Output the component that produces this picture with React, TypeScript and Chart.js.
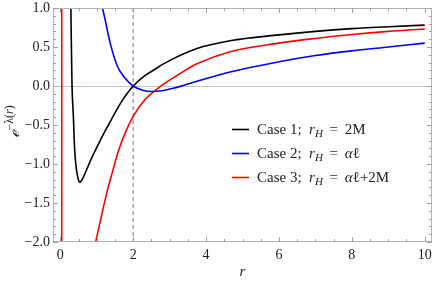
import React, { useEffect, useRef } from 'react';
import { Chart, registerables } from 'chart.js';

Chart.register(...registerables);

// ---- data ----
const case1R = [0.26, 0.29, 0.32, 0.36, 0.39, 0.43, 0.48, 0.54, 0.60, 0.68, 0.77, 0.86, 0.95, 1.04, 1.18, 1.32, 1.46, 1.59, 1.73, 1.87, 2.0, 2.33, 2.6, 2.82, 3.75, 4.66, 6.0, 7.0, 8.0, 9.0, 10.0];
const case1Y = [1.9, 1.0, 0.05, -0.40, -0.78, -1.02, -1.17, -1.235, -1.20, -1.12, -1.02, -0.925, -0.835, -0.75, -0.62, -0.50, -0.38, -0.27, -0.165, -0.075, 0.0, 0.135, 0.215, 0.28, 0.48, 0.58, 0.655, 0.70, 0.735, 0.76, 0.78];

const case2R = [1.10, 1.16, 1.23, 1.37, 1.57, 1.78, 2.0, 2.24, 2.5, 2.8, 3.1, 3.4, 3.75, 4.66, 6.0, 7.0, 8.0, 9.0, 10.0];
const case2Y = [1.16, 1.0, 0.85, 0.55, 0.25, 0.10, 0.0, -0.05, -0.07, -0.06, -0.03, 0.01, 0.06, 0.18, 0.31, 0.39, 0.45, 0.50, 0.55];

const case3R = [0.90, 0.97, 1.09, 1.27, 1.42, 1.59, 1.82, 2.0, 2.33, 2.65, 2.88, 3.15, 3.3, 3.75, 4.66, 6.0, 7.0, 8.0, 9.0, 10.0];
const case3Y = [-2.17, -2.0, -1.75, -1.38, -1.12, -0.84, -0.56, -0.39, -0.17, -0.04, 0.04, 0.12, 0.165, 0.285, 0.44, 0.55, 0.61, 0.66, 0.70, 0.73];

// near-vertical branch of case 3 close to r = 0
const case3PoleR = [0.04, 0.04];
const case3PoleY = [1.1, -2.1];

const horizonR = 2;

const xTickValues = [0, 2, 4, 6, 8, 10];
const yTickValues = [-2, -1.5, -1, -0.5, 0, 0.5, 1];
const xMinorStep = 0.5;
const yMinorStep = 0.1;

const xMin = -0.2;
const xMax = 10.2;
const yMin = -2;
const yMax = 1;

const caseLabels = ['Case 1;', 'Case 2;', 'Case 3;'];
const caseValues = [
  [['2M', 'n']],
  [['α', 'i'], ['ℓ', 'n']],
  [['α', 'i'], ['ℓ', 'n'], ['+2M', 'n']],
];
const caseColors = ['#000000', '#0000ff', '#ff0000'];

const SERIF = '"Liberation Serif", "DejaVu Serif", serif';

function pts(r: number[], v: number[]) {
  return r.map((x, i) => ({ x, y: v[i] }));
}

function drawRich(ctx: CanvasRenderingContext2D, x: number, y: number, parts: string[][], size: number) {
  let cx = x;
  for (const [t, s] of parts) {
    let font = `${size}px ${SERIF}`;
    let dy = 0;
    if (s === 'i') font = `italic ${size}px ${SERIF}`;
    if (s === 'sub') { font = `italic ${Math.round(size * 0.72)}px ${SERIF}`; dy = 3; }
    if (s === 'sup') { font = `${Math.round(size * 0.72)}px ${SERIF}`; dy = -6; }
    if (s === 'supi') { font = `italic ${Math.round(size * 0.72)}px ${SERIF}`; dy = -6; }
    ctx.font = font;
    ctx.fillText(t, cx, y + dy);
    cx += ctx.measureText(t).width;
  }
  return cx;
}

const decorPlugin = {
  id: 'decor',
  beforeDatasetsDraw(chart: any) {
    const { ctx, chartArea, scales } = chart;
    const { left, right, top, bottom } = chartArea;
    const x = scales.x, y = scales.y;
    ctx.save();
    const y0 = Math.round(y.getPixelForValue(0)) + 0.5;
    ctx.strokeStyle = '#c4c4c4';
    ctx.lineWidth = 1;
    ctx.beginPath();
    ctx.moveTo(left, y0);
    ctx.lineTo(right, y0);
    ctx.stroke();
    const xd = x.getPixelForValue(horizonR);
    ctx.setLineDash([4, 3]);
    ctx.strokeStyle = '#a6a6a6';
    ctx.lineWidth = 1.5;
    ctx.beginPath();
    ctx.moveTo(xd, top);
    ctx.lineTo(xd, bottom);
    ctx.stroke();
    ctx.restore();
  },
  afterDatasetsDraw(chart: any) {
    const { ctx, chartArea, scales } = chart;
    const { left, right, top, bottom } = chartArea;
    const x = scales.x, y = scales.y;
    ctx.save();
    ctx.strokeStyle = '#b4b4b4';
    ctx.lineWidth = 1;
    ctx.strokeRect(left + 0.5, top + 0.5, right - left - 1, bottom - top - 1);
    ctx.strokeStyle = '#a0a0a0';
    ctx.beginPath();
    for (let v = Math.ceil(xMin / xMinorStep) * xMinorStep; v <= xMax + 1e-9; v += xMinorStep) {
      const major = xTickValues.some((t) => Math.abs(t - v) < 1e-6);
      const len = major ? 5 : 3;
      const px = Math.round(x.getPixelForValue(v)) + 0.5;
      ctx.moveTo(px, bottom);
      ctx.lineTo(px, bottom - len);
      ctx.moveTo(px, top);
      ctx.lineTo(px, top + len);
    }
    for (let v = yMin; v <= yMax + 1e-9; v += yMinorStep) {
      const major = yTickValues.some((t) => Math.abs(t - v) < 1e-6);
      const len = major ? 5 : 3;
      const py = Math.round(y.getPixelForValue(v)) + 0.5;
      ctx.moveTo(left, py);
      ctx.lineTo(left + len, py);
      ctx.moveTo(right, py);
      ctx.lineTo(right - len, py);
    }
    ctx.stroke();
    ctx.restore();
  },
  afterDraw(chart: any) {
    const { ctx, chartArea } = chart;
    ctx.save();
    ctx.fillStyle = '#222';
    ctx.textBaseline = 'alphabetic';
    ctx.textAlign = 'left';
    const lx = 232, ly0 = 129, dy = 24, size = 15;
    for (let i = 0; i < caseLabels.length; i++) {
      const cy = ly0 + i * dy;
      ctx.strokeStyle = caseColors[i];
      ctx.lineWidth = 1.6;
      ctx.beginPath();
      ctx.moveTo(lx, cy + 0.5);
      ctx.lineTo(lx + 17, cy + 0.5);
      ctx.stroke();
      const parts: string[][] = [[caseLabels[i] + '  ', 'n'], ['r', 'i'], ['H', 'sub'], [' \u2009=\u2009 ', 'n'], ...caseValues[i]];
      drawRich(ctx, lx + 25, cy + 5, parts, size);
    }
    ctx.font = `italic 15px ${SERIF}`;
    ctx.textAlign = 'center';
    const xc = (chartArea.left + chartArea.right) / 2;
    ctx.fillText('r', xc, 276);
    ctx.translate(19, 138);
    ctx.rotate(-Math.PI / 2);
    ctx.textAlign = 'left';
    const e = drawRich(ctx, 0, 0, [['ℯ', 'i']], 16);
    drawRich(ctx, e + 0.5, 0, [['−λ(', 'sup'], ['r', 'supi'], [')', 'sup']], 16);
    ctx.restore();
  },
};

export default function App() {
  const ref = useRef<HTMLCanvasElement | null>(null);
  useEffect(() => {
    document.body.style.margin = '0';
    const canvas = ref.current!;
    const chart = new Chart(canvas, {
      type: 'line',
      data: {
        datasets: [
          { label: 'Case 1', data: pts(case1R, case1Y), borderColor: caseColors[0] },
          { label: 'Case 2', data: pts(case2R, case2Y), borderColor: caseColors[1] },
          { label: 'Case 3', data: pts(case3R, case3Y), borderColor: caseColors[2] },
          { label: 'Case 3 pole', data: pts(case3PoleR, case3PoleY), borderColor: caseColors[2], cubicInterpolationMode: 'default', tension: 0 },
        ].map((d: any) => ({
          cubicInterpolationMode: 'monotone',
          borderWidth: 1.6,
          pointRadius: 0,
          fill: false,
          clip: 0,
          ...d,
        })),
      },
      options: {
        animation: false,
        responsive: false,
        devicePixelRatio: 1,
        events: [],
        layout: { padding: { top: 8, right: 4, left: 0, bottom: 0 } },
        plugins: { legend: { display: false }, tooltip: { enabled: false } },
        scales: {
          x: {
            type: 'linear',
            min: xMin,
            max: xMax,
            grid: { display: false, drawTicks: false },
            border: { display: false },
            afterFit: (s: any) => { s.height = 40; s.paddingLeft = 0; s.paddingRight = 0; },
            afterBuildTicks: (s: any) => { s.ticks = xTickValues.map((v) => ({ value: v })); },
            ticks: {
              padding: 5,
              maxRotation: 0,
              color: '#222',
              font: { family: SERIF, size: 14 },
              callback: (v: any) => String(v),
            },
          },
          y: {
            type: 'linear',
            min: yMin,
            max: yMax,
            grid: { display: false, drawTicks: false },
            border: { display: false },
            afterFit: (s: any) => { s.width = 53; s.paddingTop = 0; s.paddingBottom = 0; },
            afterBuildTicks: (s: any) => { s.ticks = yTickValues.map((v) => ({ value: v })); },
            ticks: {
              padding: 3,
              color: '#222',
              font: { family: SERIF, size: 14 },
              callback: (v: any) => (v < 0 ? '−' : '') + Math.abs(Number(v)).toFixed(1),
            },
          },
        },
      },
      plugins: [decorPlugin],
    } as any);
    return () => chart.destroy();
  }, []);
  return (
    <div style={{ position: 'absolute', left: 0, top: 0, width: 436, height: 282 }}>
      <canvas ref={ref} width={436} height={282} style={{ display: 'block', width: 436, height: 282 }} />
    </div>
  );
}
